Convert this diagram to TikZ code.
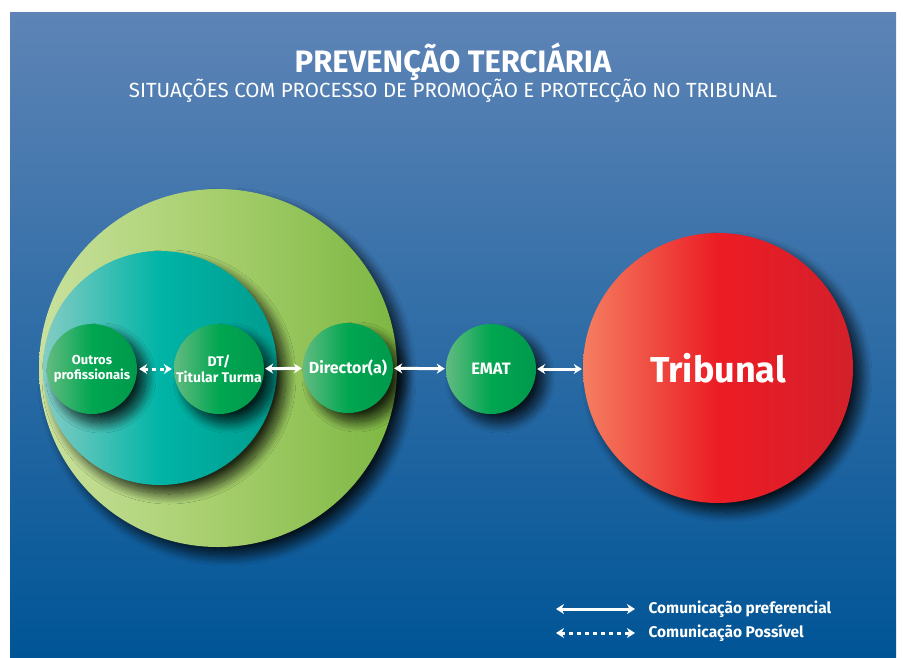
\documentclass[tikz,border=0pt]{standalone}
\usepackage{fontspec}
\setmainfont{Fira Sans}
\usetikzlibrary{arrows.meta,shadows.blur}
\definecolor{bgtop}{HTML}{5E84B6}
\definecolor{bgbot}{HTML}{005596}
\definecolor{bigL}{HTML}{C9E19D}
\definecolor{bigM}{HTML}{A6CE6C}
\definecolor{bigR}{HTML}{7DB743}
\definecolor{tealL}{HTML}{84CCC4}
\definecolor{tealM}{HTML}{00B4A6}
\definecolor{tealR}{HTML}{009C8E}
\definecolor{grnL}{HTML}{62BB80}
\definecolor{grnM}{HTML}{00A651}
\definecolor{grnR}{HTML}{00994C}
\definecolor{redL}{HTML}{F47E60}
\definecolor{redM}{HTML}{EC1C24}
\definecolor{redR}{HTML}{D3202B}
\tikzset{
  shad/.style={blur shadow={shadow xshift=9pt,shadow yshift=-9pt,shadow blur radius=10pt,shadow blur steps=20,shadow opacity=80,shadow scale=1}},
  smallc/.style={circle,inner sep=0pt,minimum size=90pt,left color=grnL,right color=grnR,middle color=grnM,shad,text=white,align=center},
  lab/.style={text=white,font=\bfseries\fontsize{15.5}{17}\selectfont},
  link/.style={white,line width=3pt,{Stealth[length=8pt,width=10pt,inset=2.5pt]}-{Stealth[length=8pt,width=10pt,inset=2.5pt]}},
  dlink/.style={link,dash pattern=on 4pt off 4pt}
}
\begin{document}
\begin{tikzpicture}[x=1pt,y=-1pt]
\useasboundingbox (0,0) rectangle (903,657);
\fill[white] (0,0) rectangle (903,657);
\shade[top color=bgtop,bottom color=bgbot] (10,12) rectangle (896,657);

\node[text=white,font=\bfseries\fontsize{31}{33}\selectfont,anchor=base] (title) at (453,72) {PREVENÇÃO TERCIÁRIA};
\node[text=white,font=\fontsize{20.5}{22}\selectfont,anchor=base] (sub) at (453,97) {SITUAÇÕES COM PROCESSO DE PROMOÇÃO E PROTECÇÃO NO TRIBUNAL};

\node[circle,inner sep=0pt,minimum size=358pt,left color=bigL,right color=bigR,middle color=bigM,shad] (big) at (218,368) {};
\node[circle,inner sep=0pt,minimum size=234pt,left color=tealL,right color=tealR,middle color=tealM,shad] (teal) at (160,368) {};
\node[smallc,font=\bfseries\fontsize{13}{15}\selectfont] (outros) at (92,369) {Outros\\profissionais};
\node[smallc,font=\bfseries\fontsize{14}{16}\selectfont] (dt) at (219,369) {DT/\\Titular Turma};
\node[smallc,font=\bfseries\fontsize{16}{18}\selectfont] (dir) at (348,368) {Director(a)};
\node[smallc,font=\bfseries\fontsize{16.5}{18}\selectfont] (emat) at (491,369) {EMAT};
\node[circle,inner sep=0pt,minimum size=270pt,left color=redL,right color=redR,middle color=redM,shad,text=white,font=\bfseries\fontsize{36}{40}\selectfont] (trib) at (718,368) {Tribunal};

\draw[dlink,shorten <=2pt,shorten >=2pt] (outros) -- (dt);
\draw[link,shorten <=1pt,shorten >=1pt] (dt) -- (dir);
\draw[link,shorten <=1pt,shorten >=1pt] (dir) -- (emat);
\draw[link,shorten <=1pt,shorten >=1pt] (emat.east) -- (trib.west |- emat.east);

\coordinate (l1a) at (556,609);
\coordinate (l1b) at (635,609);
\coordinate (l2a) at (556,633);
\coordinate (l2b) at (635,633);
\draw[link] (l1a) -- (l1b);
\draw[dlink] (l2a) -- (l2b);
\node[lab,anchor=west] (t1) at (645,609) {Comunicação preferencial};
\node[lab,anchor=west] (t2) at (645,633) {Comunicação Possível};
\end{tikzpicture}
\end{document}
